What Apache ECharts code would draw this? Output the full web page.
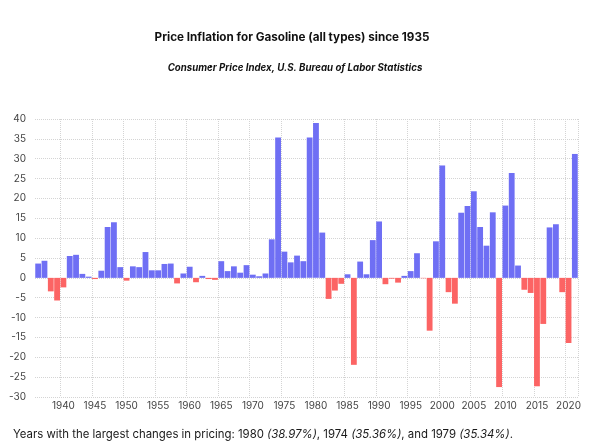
<!DOCTYPE html>
<html>
<head>
<meta charset="utf-8">
<script src="https://cdn.jsdelivr.net/npm/echarts@6/dist/echarts.min.js"></script>
<style>
html,body{margin:0;padding:0;background:#fff;}
#chart{width:600px;height:447px;}
</style>
</head>
<body>
<div id="chart"></div>
<script>
const years = [];
for (let y = 1936; y <= 2021; y++) years.push(String(y));

const inflation = [
  3.6, 4.3, -3.4, -5.7, -2.4, 5.5, 5.8, 1.0, 0.3, -0.3,
  1.8, 12.8, 14.0, 2.7, -0.7, 2.9, 2.7, 6.5, 1.9, 1.9,
  3.5, 3.6, -1.4, 1.1, 2.8, -1.1, 0.5, -0.3, -0.5, 4.2,
  1.7, 2.9, 1.3, 3.2, 0.8, 0.4, 1.1, 9.7, 35.36, 6.6,
  3.9, 5.6, 4.2, 35.34, 38.97, 11.4, -5.3, -3.2, -1.5, 0.9,
  -21.9, 4.1, 0.9, 9.5, 14.2, -1.6, -0.2, -1.2, 0.5, 1.7,
  6.2, -0.1, -13.3, 9.2, 28.3, -3.6, -6.5, 16.4, 18.1, 21.8,
  12.8, 8.1, 16.5, -27.5, 18.2, 26.4, 3.1, -3.0, -3.8, -27.3,
  -11.6, 12.7, 13.5, -3.6, -16.4, 31.2
];

const yTicks = [40, 35, 30, 25, 20, 15, 10, 5, 0, -5, -10, -15, -20, -25, -30];

const titleText = 'Price Inflation for Gasoline (all types) since 1935';
const subtitleText = 'Consumer Price Index, U.S. Bureau of Labor Statistics';

// top three by magnitude for footer
const ranked = years.map((y, i) => ({ y, v: inflation[i] }))
  .sort((a, b) => Math.abs(b.v) - Math.abs(a.v)).slice(0, 3);
const footer = 'Years with the largest changes in pricing: ' +
  ranked[0].y + ' {i|(' + ranked[0].v.toFixed(2) + '%)}, ' +
  ranked[1].y + ' {i|(' + ranked[1].v.toFixed(2) + '%)}, and ' +
  ranked[2].y + ' {i|(' + ranked[2].v.toFixed(2) + '%)}.';

const FONT = 'Inter, "Noto Sans", sans-serif';
const BLUE = '#6f6ff4';
const RED = '#fc6464';

const chart = echarts.init(document.getElementById('chart'), null, { renderer: 'canvas' });
chart.setOption({
  animation: false,
  backgroundColor: '#fff',
  textStyle: { fontFamily: FONT },
  title: [
    { text: titleText, left: 287, top: 26, textAlign: 'center',
      textStyle: { fontSize: 11.7, fontWeight: 'bold', color: '#111', fontFamily: FONT } },
    { text: subtitleText, left: 290, top: 58, textAlign: 'center',
      textStyle: { fontSize: 9.7, fontWeight: 'bold', fontStyle: 'italic', color: '#111', fontFamily: FONT } }
  ],
  grid: { left: 35, right: 22, top: 119, bottom: 50, containLabel: false },
  xAxis: {
    type: 'category',
    data: years,
    axisLine: { show: false },
    axisTick: { show: false },
    axisLabel: {
      interval: (i, v) => Number(v) % 5 === 0,
      color: '#444', fontSize: 10, margin: 4, fontFamily: FONT
    },
    splitLine: {
      show: true,
      interval: (i, v) => Number(v) % 5 === 0,
      lineStyle: { type: 'dotted', color: '#d4d4d4', width: 1 }
    }
  },
  yAxis: {
    type: 'value',
    min: yTicks[yTicks.length - 1],
    max: yTicks[0],
    interval: 5,
    axisLine: { show: false },
    axisTick: { show: false },
    axisLabel: { color: '#444', fontSize: 10, margin: 9, fontFamily: FONT },
    splitLine: { lineStyle: { type: 'dotted', color: '#d4d4d4', width: 1 } }
  },
  series: [{
    type: 'bar',
    data: inflation,
    barCategoryGap: '8%',
    itemStyle: { color: p => (p.value >= 0 ? BLUE : RED) }
  }],
  graphic: [{
    type: 'text',
    left: 13,
    top: 429,
    style: {
      text: footer,
      fontSize: 11.4,
      fontFamily: FONT,
      fill: '#1a1a1a',
      rich: { i: { fontStyle: 'italic', fontSize: 11.4, fontFamily: FONT, fill: '#1a1a1a' } }
    }
  }]
});
</script>
</body>
</html>
